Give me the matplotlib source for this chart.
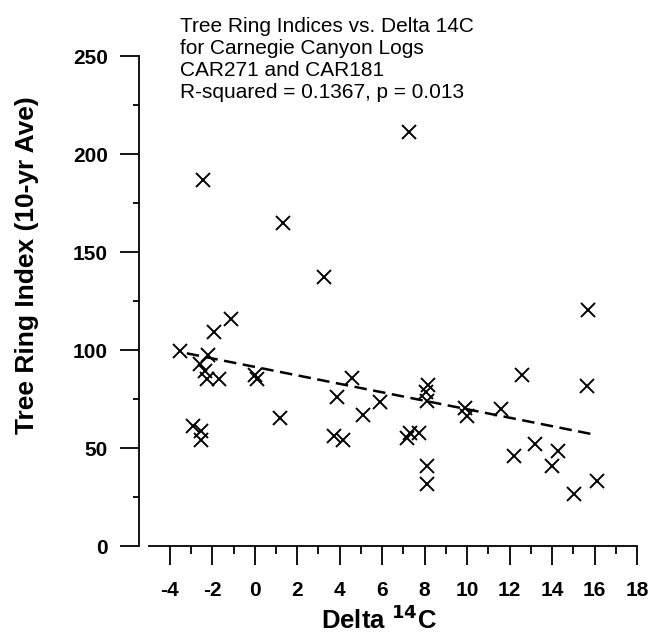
import matplotlib
matplotlib.use("Agg")
import matplotlib.pyplot as plt
from matplotlib.ticker import MultipleLocator

plt.rcParams["font.family"] = ["Liberation Sans", "DejaVu Sans"]
plt.rcParams["axes.unicode_minus"] = False

# ---------------------------------------------------------------------------
# Data
# ---------------------------------------------------------------------------
delta14c = [-3.5, -1.1, -1.9, -2.2, -2.6, -2.35, -2.25, -1.7, 0.0, 0.1,
            1.2, -2.9, -2.55, -2.55, 3.85, 4.6, 5.9, 5.1, 3.75, 4.15,
            -2.45, 1.35, 3.25, 7.25, 15.7, 12.6, 15.65, 8.15, 8.05, 8.1,
            9.9, 10.0, 11.6, 7.15, 7.3, 7.75, 8.1, 8.1, 12.2, 13.2,
            14.3, 14.0, 15.05, 16.1]
ring_index = [99.5, 116, 109, 97.5, 93, 89.5, 85, 85, 87, 85,
              65.5, 61, 58.5, 54, 76, 85.5, 73.5, 67, 56, 54,
              186.5, 165, 137.5, 211, 120.5, 87, 81.5, 82, 78.5, 74,
              70.5, 66.5, 70, 55, 57.5, 57.5, 41, 31.5, 46, 52,
              48.5, 41, 26.5, 33]

# regression line end points
fit_x = [-3.2, 16.1]
fit_y = [98.3, 56.6]

title_lines = [
    "Tree Ring Indices vs. Delta 14C",
    "for Carnegie Canyon Logs",
    "CAR271 and CAR181",
    "R-squared = 0.1367, p = 0.013",
]

# ---------------------------------------------------------------------------
# Figure
# ---------------------------------------------------------------------------
W, H = 650, 635
fig = plt.figure(figsize=(6.5, 6.35), dpi=100)
ax = fig.add_axes([139 / W, 1 - 546 / H, (637 - 139) / W, (546 - 56) / H])

ax.plot(delta14c, ring_index, linestyle="none", marker="x", markersize=9.5,
        markeredgewidth=1.4, color="black", clip_on=False, zorder=3)
ax.plot(fit_x, fit_y, linestyle=(0, (5, 2.6)), color="black", linewidth=1.8,
        zorder=2)

ax.set_xlim(-5.45, 18)
ax.set_ylim(0, 250)

for side in ("top", "right"):
    ax.spines[side].set_visible(False)
ax.spines["bottom"].set_bounds(-5, 18)
ax.spines["left"].set_linewidth(1.3)
ax.spines["bottom"].set_linewidth(1.3)

ax.xaxis.set_major_locator(MultipleLocator(2))
ax.yaxis.set_major_locator(MultipleLocator(50))
ax.yaxis.set_minor_locator(MultipleLocator(25))
# minor x ticks on odd values, none at -5
ax.set_xticks([v for v in range(-3, 18, 2)], minor=True)

ax.tick_params(axis="x", which="major", direction="out", length=14, width=1.3,
               pad=11, labelsize=15)
ax.tick_params(axis="x", which="minor", direction="out", length=6, width=1.3)
ax.tick_params(axis="y", which="major", direction="out", length=14, width=1.3,
               pad=8.5, labelsize=15)
ax.tick_params(axis="y", which="minor", direction="out", length=4.5, width=1.3)

for lbl in ax.get_xticklabels() + ax.get_yticklabels():
    lbl.set_fontweight("bold")

ax.set_xlabel("Delta $^{\\mathbf{14}}$C", fontsize=18.5, fontweight="bold")
ax.set_ylabel("Tree Ring Index (10-yr Ave)", fontsize=19, fontweight="bold")
ax.xaxis.set_label_coords(0.482, -0.122)
ax.yaxis.set_label_coords(-0.2, 0.573)

baselines = [32, 54, 76, 98]
for line, yb in zip(title_lines, baselines):
    fig.text(180 / W, 1 - yb / H, line, fontsize=15, va="baseline",
             ha="left")

fig.savefig("out.png", dpi=100)
